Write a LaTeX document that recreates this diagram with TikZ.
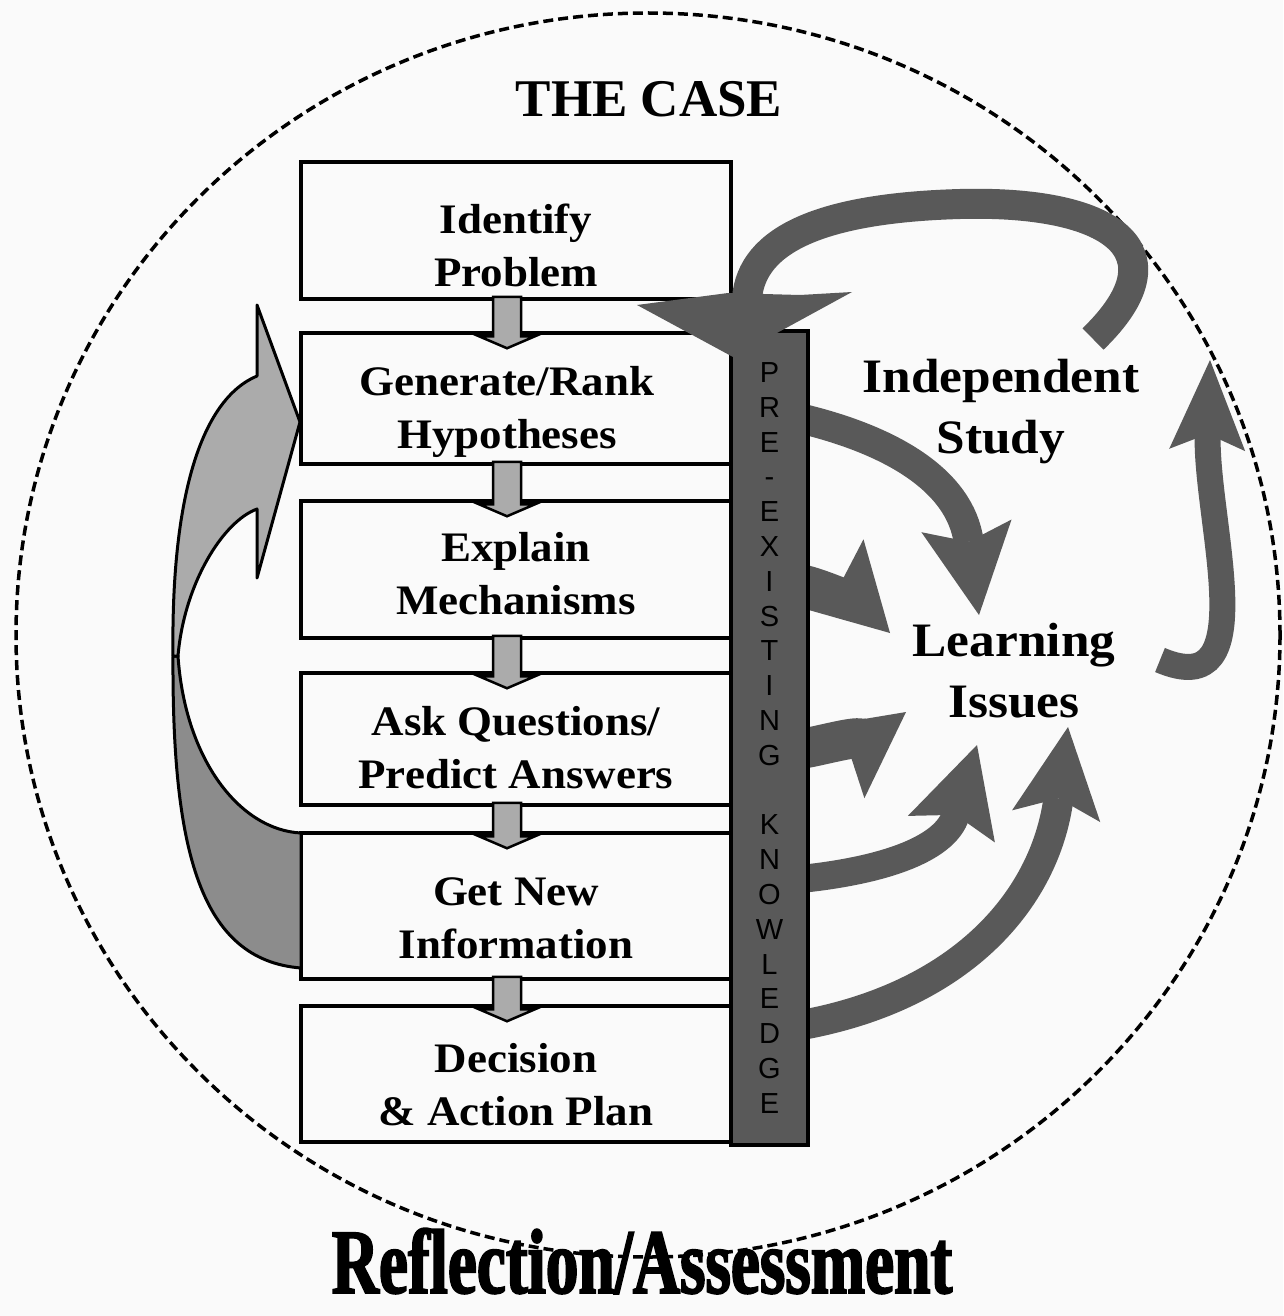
\documentclass[tikz,border=0pt]{standalone}
\usepackage{fontspec}
\setmainfont{Liberation Serif}[FakeStretch=1.07]
\setsansfont{Liberation Sans}
\newfontfamily\caseserif{Liberation Serif}
\newfontfamily\condserif{Liberation Serif}[FakeStretch=0.71, BoldFeatures={FakeBold=2}]
\usetikzlibrary{arrows.meta}

\definecolor{paper}{HTML}{FAFAFA}
\definecolor{flowgray}{HTML}{595959}
\definecolor{stepgray}{HTML}{ABABAB}
\definecolor{loopdark}{HTML}{8C8C8C}

\tikzset{
  stepbox/.style={draw=black, line width=3.5pt, fill=paper, minimum width=430pt, inner sep=0pt},
  steptext/.style={font=\bfseries\fontsize{42}{53}\selectfont, align=center, inner sep=0pt},
  steparrow/.style={draw=black, line width=2.5pt, fill=stepgray, line join=miter},
  loopband/.style={draw=black, line width=3pt, line join=round},
  knowbar/.style={draw=black, line width=3.5pt, fill=flowgray, minimum width=77pt, minimum height=814pt,
    inner sep=0pt, align=center, font=\sffamily\fontsize{29}{34.8}\selectfont},
  flow/.style={draw=flowgray, line width=#1},
  flowhead/.style n args={3}{-{Stealth[length=#1, width=#2, inset=#3, line width=0pt]}},
  bigtext/.style={font=\bfseries\fontsize{48}{61}\selectfont, align=center, inner sep=0pt},
  rim/.style={draw=black, line width=3.5pt, dash pattern=on 10pt off 5pt},
}

\begin{document}
\begin{tikzpicture}[x=1pt, y=-1pt]
  \path[use as bounding box, fill=paper] (0,0) rectangle (1283,1316);

  % the case
  \draw[rim] (648,635) ellipse [x radius=632, y radius=622];
  \node[font=\caseserif\bfseries\fontsize{53}{60}\selectfont, anchor=base] (case) at (649,117) {THE CASE};

  % reasoning steps
  \node[stepbox, minimum height=137pt] (b1) at (516,230.5) {};
  \node[steptext] (t1) at ([yshift=-14.5pt]b1.center) {Identify\\Problem};
  \node[stepbox, minimum height=131pt] (b2) at (516,398.5) {};
  \node[steptext] (t2) at ([xshift=-9pt,yshift=-13pt]b2.center) {Generate/Rank\\Hypotheses};
  \node[stepbox, minimum height=137pt] (b3) at (516,569.5) {};
  \node[steptext] (t3) at ([yshift=-4.5pt]b3.center) {Explain\\Mechanisms};
  \node[stepbox, minimum height=132pt] (b4) at (516,739) {};
  \node[steptext] (t4) at ([yshift=-9pt]b4.center) {Ask Questions/\\Predict Answers};
  \node[stepbox, minimum height=146pt] (b5) at (516,906) {};
  \node[steptext] (t5) at ([yshift=-12pt]b5.center) {Get New\\Information};
  \node[stepbox, minimum height=136pt] (b6) at (516,1074) {};
  \node[steptext] (t6) at ([yshift=-11pt]b6.center) {Decision\\\& Action Plan};

  % step arrows
  \foreach \a/\b in {b1/b2,b2/b3,b3/b4,b4/b5,b5/b6}
    \draw[steparrow] ([xshift=-23pt,yshift=4pt]\a.south) -- ([xshift=5pt,yshift=4pt]\a.south)
      -- ([xshift=5pt,yshift=-5pt]\b.north) -- ([xshift=19pt,yshift=-5pt]\b.north)
      -- ([xshift=-9pt,yshift=-17pt]\b.north) -- ([xshift=-37pt,yshift=-5pt]\b.north)
      -- ([xshift=-23pt,yshift=-5pt]\b.north) -- cycle;

  % loop back to the hypotheses
  \draw[loopband, fill=loopdark] (178,656) .. controls (185,760) and (240,830) .. (301,833)
    -- (301,968) .. controls (200,960) and (172,850) .. (173,656) -- cycle;
  \draw[loopband, fill=stepgray] (173,656) .. controls (171,500) and (200,400) .. (257,376)
    -- (257,305) -- (300,422) -- (257,578) -- (257,509)
    .. controls (222,522) and (184,585) .. (178,656) -- cycle;

  % arrows to the learning issues
  \coordinate (k1) at (790,416);  \coordinate (i1) at (979,615);
  \coordinate (k2) at (790,583);  \coordinate (i2) at (890,633);
  \coordinate (k3) at (790,750);  \coordinate (i3) at (906,712);
  \coordinate (k4) at (790,880);  \coordinate (i4) at (977,745);
  \coordinate (k5) at (790,1027); \coordinate (i5) at (1068,727);
  \coordinate (ls) at (1160,660); \coordinate (le) at (1210,360);
  \draw[flow=30pt, flowhead={90pt}{91pt}{16pt}] (k1) .. controls (890,438) and (960,480) .. (i1);
  \draw[flow=40pt, flowhead={85pt}{95pt}{15pt}] (k2) .. controls (820,583) and (879,622) .. (i2);
  \draw[flow=40pt, flowhead={85pt}{88pt}{15pt}] (k3) .. controls (815,750) and (894,721) .. (i3);
  \draw[flow=28pt, flowhead={88pt}{91pt}{15pt}] (k4) .. controls (880,872) and (945,850) .. (i4);
  \draw[flow=30pt, flowhead={90pt}{89pt}{18pt}] (k5) .. controls (960,1000) and (1045,900) .. (i5);
  \draw[flow=26pt, flowhead={90pt}{76pt}{16pt}] (ls) .. controls (1265,705) and (1205,520) .. (le);

  % pre-existing knowledge
  \node[knowbar] (know) at (769.5,738)
    {P\\R\\E\\-\\E\\X\\I\\S\\T\\I\\N\\G\\[34.8pt]K\\N\\O\\W\\L\\E\\D\\G\\E};

  % back to the problem
  \coordinate (st) at (1093,339); \coordinate (ip) at (637,305);
  \draw[flow=30pt] (st) .. controls (1185,250) and (1110,200) .. (960,204)
    .. controls (820,208) and (752,240) .. (747,298);
  \fill[flowgray] (ip) -- (733,357) -- (852,292) -- (800,295) -- (728,293) -- cycle;

  \node[bigtext] (indep) at (1001,411.5) {Independent\\Study};
  \node[bigtext] (learn) at (1014,671) {Learning\\Issues};

  \node[font=\condserif\bfseries\fontsize{92}{100}\selectfont, anchor=base, inner sep=0pt] (reflect) at (642,1293) {Reflection/Assessment};
\end{tikzpicture}
\end{document}
